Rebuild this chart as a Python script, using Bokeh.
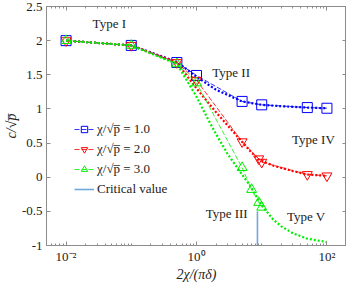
from bokeh.plotting import figure
from bokeh.models import (FixedTicker, LogAxis, LinearAxis, Legend, LegendItem,
                          Range1d, Label, CustomJSTickFormatter)
from bokeh.embed import file_html
from bokeh.resources import INLINE

# ---- data ----
# simulation markers
blue_mx = [0.01, 0.1, 0.5, 1, 5, 10, 50, 100]
blue_my = [2.0, 1.93, 1.68, 1.49, 1.11, 1.06, 1.02, 1.01]
red_mx = [0.01, 0.1, 0.5, 1, 5, 9, 10, 50, 100]
red_my = [2.0, 1.93, 1.68, 1.42, 0.52, 0.27, 0.22, 0.04, 0.02]
green_mx = [0.01, 0.1, 0.5, 1, 5, 7, 9, 10]
green_my = [2.0, 1.93, 1.66, 1.38, 0.14, -0.18, -0.37, -0.44]

# theory curves (dotted)
blue_cx = [0.01, 0.1, 0.5, 1, 2, 5, 10, 20, 50, 100]
blue_cy = [2.0, 1.93, 1.69, 1.47, 1.28, 1.11, 1.06, 1.04, 1.02, 1.01]
red_cx = [0.01, 0.1, 0.5, 1, 2, 3, 5, 7, 9, 15, 30, 50, 100]
red_cy = [2.0, 1.93, 1.68, 1.30, 0.95, 0.76, 0.52, 0.36, 0.26, 0.17, 0.09, 0.04, 0.02]
green_cx = [0.01, 0.1, 0.5, 1, 1.5, 2, 3, 5, 7, 10, 15, 20, 30, 50, 100]
green_cy = [2.0, 1.93, 1.66, 1.18, 0.85, 0.63, 0.34, 0.04, -0.16, -0.41, -0.62, -0.72, -0.82, -0.90, -0.95]

crit_x = [8.6, 8.6]
crit_y = [-1.0, -0.5]

series_labels = ["χ/√p̅ = 1.0", "χ/√p̅ = 2.0", "χ/√p̅ = 3.0"]
crit_label = "Critical value"

type_text = ["Type I", "Type II", "Type III", "Type IV", "Type V"]
type_x = [0.046, 3.4, 2.9, 62, 48]
type_y = [2.25, 1.54, -0.53, 0.55, -0.58]

y_ticks = [-1, -0.5, 0, 0.5, 1, 1.5, 2, 2.5]
y_tick_labels = ["-1", "-0.5", "0", "0.5", "1", "1.5", "2", "2.5"]
x_ticks = [0.01, 1, 100]
x_tick_labels = ["10⁻²", "10⁰", "10²"]

FONT = "Liberation Serif"
AXC = "#8c8c8c"

p = figure(width=346, height=284, x_axis_type="log",
           x_range=Range1d(10 ** -2.3, 10 ** 2.3), y_range=Range1d(-1, 2.5),
           output_backend="svg", toolbar_location=None,
           min_border_left=40, min_border_right=0, min_border_top=6,
           min_border_bottom=36)
p.grid.visible = False
p.outline_line_color = AXC
p.background_fill_color = "white"

minor = []
for e in [-3, -2, -1, 0, 1, 2]:
    for m in range(1, 10):
        minor.append(m * 10.0 ** e)

def style_axis(ax):
    ax.axis_line_color = AXC
    ax.major_tick_line_color = AXC
    ax.minor_tick_line_color = AXC
    ax.major_tick_in = 4
    ax.major_tick_out = 0
    ax.minor_tick_in = 2
    ax.minor_tick_out = 0
    ax.major_label_text_font = FONT
    ax.major_label_text_font_size = "13px"
    ax.major_label_text_color = "#222222"
    ax.axis_label_text_font = FONT
    ax.axis_label_text_font_size = "14px"
    ax.axis_label_text_font_style = "italic"
    ax.axis_label_text_color = "#222222"

xa = p.xaxis[0]
xa.ticker = FixedTicker(ticks=x_ticks, minor_ticks=minor)
xa.major_label_overrides = {t: l for t, l in zip(x_ticks, x_tick_labels)}
xa.axis_label = "2χ/(πδ)"
xa.major_label_standoff = 3
xa.axis_label_standoff = 0
style_axis(xa)

ya = p.yaxis[0]
ya.ticker = FixedTicker(ticks=y_ticks)
ya.major_label_overrides = {t: l for t, l in zip(y_ticks, y_tick_labels)}
ya.axis_label = "c/√p̅"
ya.major_label_standoff = 4
ya.axis_label_standoff = 0
style_axis(ya)
ya.minor_tick_line_color = None

blank = CustomJSTickFormatter(code="return ''")
top = LogAxis(ticker=FixedTicker(ticks=x_ticks, minor_ticks=minor), formatter=blank)
style_axis(top)
top.major_label_standoff = 0
top.major_label_text_font_size = "1px"
p.add_layout(top, "above")
right = LinearAxis(ticker=FixedTicker(ticks=y_ticks), formatter=blank)
style_axis(right)
right.minor_tick_line_color = None
right.major_label_standoff = 0
right.major_label_text_font_size = "1px"
p.add_layout(right, "right")

cols = ["#0000ff", "#ff0000", "#00ee00"]
mx = [blue_mx, red_mx, green_mx]
my = [blue_my, red_my, green_my]
cx = [blue_cx, red_cx, green_cx]
cy = [blue_cy, red_cy, green_cy]
markers = ["square", "inverted_triangle", "triangle"]

items = []
for i in range(3):
    p.line(cx[i], cy[i], line_color=cols[i], line_width=2.2, line_dash="2 2")
    dl = p.line(mx[i], my[i], line_color=cols[i], line_width=1, line_dash="5 2",
                line_alpha=0.8)
    mk = p.scatter(mx[i], my[i], marker=markers[i], size=10, fill_color=None,
                   line_color=cols[i], line_width=1)
    items.append(LegendItem(label=series_labels[i], renderers=[dl, mk]))

cl = p.line(crit_x, crit_y, line_color="#6fa8dc", line_width=1.6)
items.append(LegendItem(label=crit_label, renderers=[cl]))

leg = Legend(items=items, location=(28, 48), border_line_color=None,
             background_fill_alpha=0, label_text_font=FONT,
             label_text_font_size="13px", label_text_color="#222222",
             glyph_width=20, glyph_height=16, label_height=16, spacing=4,
             padding=0, margin=0, label_standoff=3)
p.add_layout(leg, "center")

for t, x, y in zip(type_text, type_x, type_y):
    p.add_layout(Label(x=x, y=y, text=t, text_font=FONT, text_font_size="13px",
                       text_align="center", text_baseline="middle",
                       text_color="#222222"))

open("out.html", "w").write(file_html(p, INLINE))
